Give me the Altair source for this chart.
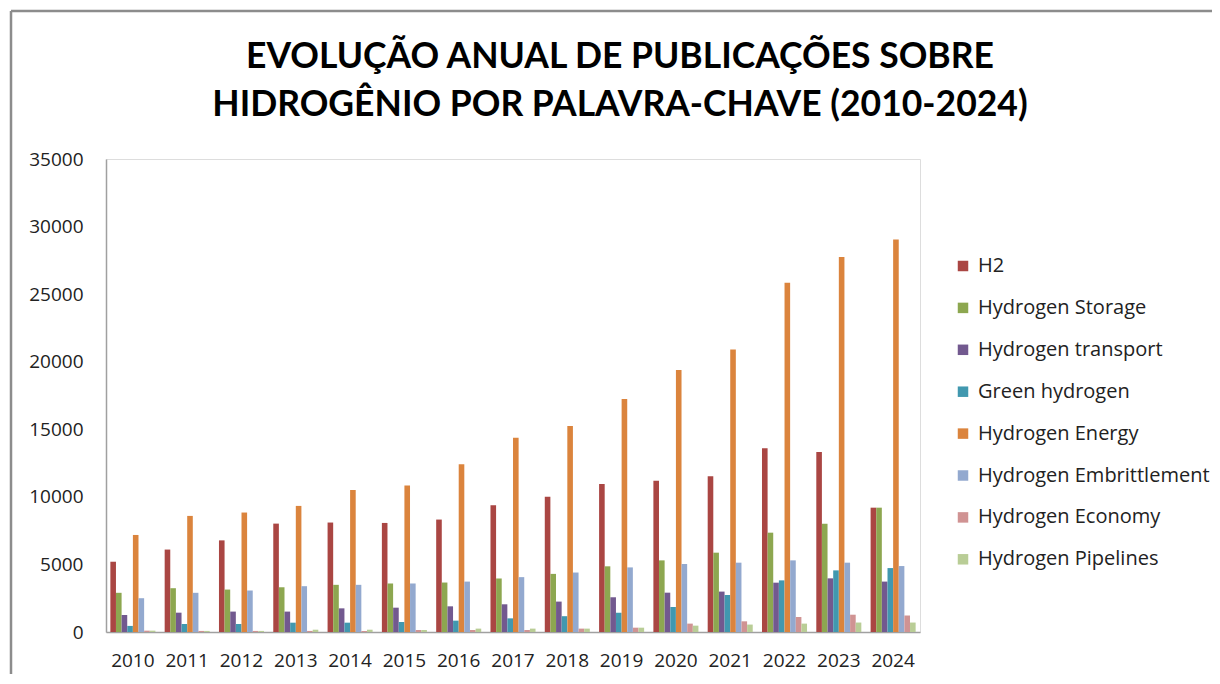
import altair as alt
import pandas as pd

years = [str(y) for y in range(2010, 2025)]
series = ["H2", "Hydrogen Storage", "Hydrogen transport", "Green hydrogen",
          "Hydrogen Energy", "Hydrogen Embrittlement", "Hydrogen Economy",
          "Hydrogen Pipelines"]
colors = ["#AA4643", "#8DA750", "#72598F", "#4198AF", "#DB843D", "#93A9CF",
          "#D09393", "#B9CD96"]

h2 = [5200, 6100, 6780, 8020, 8100, 8070, 8320, 9380, 10000, 10960, 11200, 11520, 13590, 13310, 9200]
storage = [2900, 3240, 3140, 3310, 3490, 3590, 3660, 3960, 4300, 4860, 5300, 5870, 7350, 8010, 9200]
transport = [1260, 1430, 1510, 1510, 1750, 1800, 1900, 2050, 2250, 2570, 2910, 2990, 3650, 3970, 3730]
green = [450, 590, 590, 690, 690, 740, 840, 1010, 1170, 1430, 1850, 2740, 3820, 4560, 4730]
energy = [7180, 8590, 8840, 9330, 10500, 10840, 12420, 14380, 15240, 17240, 19380, 20910, 25840, 27740, 29050]
embrittlement = [2500, 2900, 3070, 3390, 3490, 3590, 3730, 4060, 4400, 4780, 5030, 5130, 5300, 5130, 4880]
economy = [100, 80, 80, 80, 80, 150, 150, 150, 250, 320, 620, 790, 1110, 1280, 1220]
pipelines = [100, 80, 80, 170, 170, 150, 250, 250, 250, 320, 470, 550, 620, 700, 700]

values = [h2, storage, transport, green, energy, embrittlement, economy, pipelines]

rows = []
for s, vals in zip(series, values):
    for y, v in zip(years, vals):
        rows.append({"Ano": y, "Palavra": s, "Publicacoes": v})
df = pd.DataFrame(rows)

title_lines = ["EVOLUÇÃO ANUAL DE PUBLICAÇÕES SOBRE",
               "HIDROGÊNIO POR PALAVRA-CHAVE (2010-2024)"]
title_df = pd.DataFrame({"linha": title_lines, "ordem": [0, 1]})

W, H = 814, 473
FONT = "Open Sans"

bars = alt.Chart(df).mark_bar(size=5.6).encode(
    x=alt.X("Ano:N", sort=years,
            scale=alt.Scale(paddingInner=0.17, paddingOuter=0.08),
            axis=alt.Axis(title=None, labelAngle=0, ticks=False,
                          labelPadding=19, labelFontSize=19, labelFont=FONT,
                          labelColor="#222222", domainColor="#A0A0A0",
                          domainWidth=1.5)),
    xOffset=alt.XOffset("Palavra:N", sort=series,
                        scale=alt.Scale(domain=series, paddingInner=0, paddingOuter=0)),
    y=alt.Y("Publicacoes:Q",
            scale=alt.Scale(domain=[0, 35000], nice=False),
            axis=alt.Axis(title=None, values=list(range(0, 35001, 5000)),
                          format="d", ticks=False, labelPadding=23,
                          labelFontSize=19, labelFont=FONT,
                          labelColor="#222222", gridColor="#A6A6A6",
                          gridWidth=1.5, domainColor="#A0A0A0",
                          domainWidth=1.5)),
    color=alt.Color("Palavra:N", sort=series,
                    scale=alt.Scale(domain=series, range=colors),
                    legend=alt.Legend(title=None, orient="none",
                                      legendX=847, legendY=97,
                                      symbolType="square", symbolSize=110,
                                      symbolStrokeWidth=0,
                                      labelFont=FONT, labelFontSize=20,
                                      labelLimit=0,
                                      labelColor="#222222", rowPadding=21.9,
                                      labelOffset=5)),
)

title_text = alt.Chart(title_df).mark_text(
    font="Lato", fontSize=35.5, fontWeight="bold", color="#000000",
    align="center", baseline="middle").encode(
    text="linha:N",
    x=alt.value(514),
    y=alt.Y("ordem:Q", scale=alt.Scale(domain=[0, 1], range=[-102, -54]),
            axis=None),
)

frame_top = alt.Chart(pd.DataFrame({"k": [0]})).mark_rule(
    color="#8C8C8C", strokeWidth=2.5).encode(
    x=alt.value(-95), x2=alt.value(1106), y=alt.value(-148))
frame_left = alt.Chart(pd.DataFrame({"k": [0]})).mark_rule(
    color="#8C8C8C", strokeWidth=2.5).encode(
    x=alt.value(-95), y=alt.value(-148), y2=alt.value(515))

chart = alt.layer(frame_top, frame_left, title_text, bars).resolve_scale(
    y="independent").properties(
    width=W, height=H,
    autosize=alt.AutoSizeParams(type="none"),
    padding={"left": 98, "top": 151, "right": 292, "bottom": 42},
).configure_view(stroke=None).configure(background="white")

chart.save("out.html", embed_options={"renderer": "svg", "actions": False})
